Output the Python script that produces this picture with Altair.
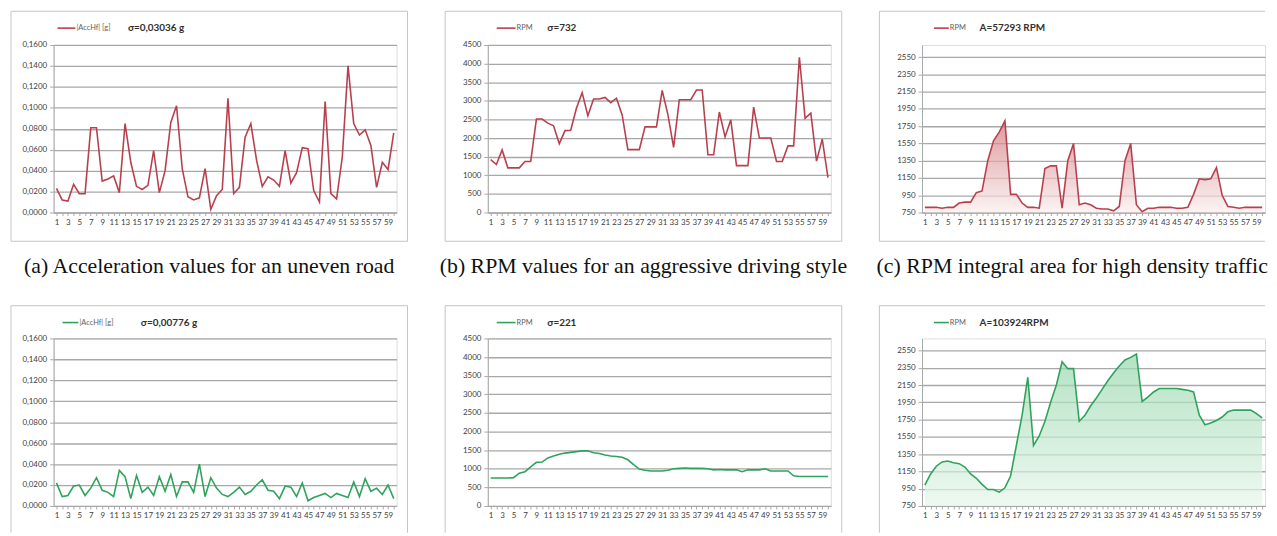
import altair as alt
import pandas as pd

samples = list(range(1, 61))

acc_uneven = [0.023, 0.012, 0.011, 0.027, 0.018, 0.018, 0.081, 0.081, 0.030, 0.032,
              0.035, 0.019, 0.085, 0.048, 0.025, 0.022, 0.026, 0.059, 0.019, 0.040,
              0.086, 0.102, 0.042, 0.015, 0.012, 0.014, 0.042, 0.003, 0.016, 0.022,
              0.109, 0.018, 0.024, 0.072, 0.085, 0.050, 0.025, 0.034, 0.031, 0.025,
              0.059, 0.028, 0.038, 0.062, 0.061, 0.021, 0.010, 0.106, 0.018, 0.013,
              0.053, 0.140, 0.085, 0.074, 0.079, 0.064, 0.024, 0.048, 0.041, 0.076]

rpm_aggressive = [1420, 1290, 1680, 1200, 1200, 1200, 1370, 1370, 2510, 2510,
                  2400, 2330, 1850, 2200, 2210, 2800, 3220, 2600, 3050, 3050,
                  3090, 2950, 3070, 2620, 1690, 1690, 1690, 2300, 2300, 2300,
                  3280, 2630, 1750, 3030, 3030, 3030, 3290, 3290, 1550, 1550,
                  2700, 2030, 2490, 1260, 1260, 1260, 2830, 2000, 2000, 2000,
                  1370, 1370, 1790, 1790, 4170, 2530, 2670, 1380, 1970, 940]

rpm_high_density = [810, 810, 810, 800, 810, 810, 860, 870, 870, 980,
                    1000, 1350, 1580, 1680, 1810, 960, 960, 860, 810, 810,
                    800, 1260, 1290, 1290, 800, 1350, 1550, 840, 860, 840,
                    800, 790, 790, 770, 820, 1350, 1550, 840, 760, 800,
                    800, 810, 810, 810, 800, 800, 810, 960, 1140, 1130,
                    1140, 1270, 950, 820, 810, 800, 810, 810, 810, 810]

acc_smooth = [0.022, 0.009, 0.010, 0.019, 0.020, 0.010, 0.017, 0.027, 0.015, 0.013,
              0.009, 0.034, 0.028, 0.007, 0.029, 0.013, 0.018, 0.010, 0.028, 0.014,
              0.030, 0.009, 0.023, 0.023, 0.013, 0.040, 0.009, 0.027, 0.017, 0.011,
              0.009, 0.013, 0.018, 0.011, 0.014, 0.020, 0.025, 0.015, 0.014, 0.007,
              0.019, 0.018, 0.009, 0.022, 0.005, 0.008, 0.010, 0.012, 0.008, 0.012,
              0.010, 0.008, 0.023, 0.009, 0.026, 0.014, 0.017, 0.011, 0.020, 0.007]

rpm_calm = [750, 750, 750, 750, 760, 880, 920, 1050, 1170, 1180,
            1290, 1340, 1390, 1420, 1440, 1460, 1480, 1480, 1430, 1410,
            1370, 1340, 1330, 1310, 1240, 1110, 990, 960, 940, 940,
            940, 960, 1000, 1010, 1020, 1010, 1010, 1010, 1000, 970,
            980, 970, 970, 970, 920, 970, 970, 970, 1000, 940,
            940, 940, 940, 810, 790, 790, 790, 790, 790, 790]

rpm_low_density = [990, 1120, 1210, 1260, 1270, 1250, 1240, 1200, 1120, 1070,
                   1000, 940, 940, 910, 960, 1100, 1450, 1800, 2240, 1450,
                   1560, 1730, 1950, 2150, 2420, 2340, 2340, 1730, 1800, 1910,
                   2000, 2100, 2200, 2290, 2370, 2440, 2470, 2510, 1960, 2010,
                   2070, 2110, 2110, 2110, 2110, 2100, 2090, 2070, 1800, 1690,
                   1710, 1740, 1780, 1840, 1860, 1860, 1860, 1860, 1820, 1770]

acc_ticks = [0, 0.02, 0.04, 0.06, 0.08, 0.10, 0.12, 0.14, 0.16]
rpm_ticks = [0, 500, 1000, 1500, 2000, 2500, 3000, 3500, 4000, 4500]
area_ticks = [750, 950, 1150, 1350, 1550, 1750, 1950, 2150, 2350, 2550]

captions = ["(a) Acceleration values for an uneven road",
            "(b) RPM values for an aggressive driving style",
            "(c) RPM integral area for high density traffic"]
legend_labels = ["|AccHf| [g]", "RPM", "RPM", "|AccHf| [g]", "RPM", "RPM"]
stat_texts = ["σ=0,03036 g", "σ=732", "A=57293 RPM", "σ=0,00776 g", "σ=221", "A=103924RPM"]

W, H = 346, 169
RED = "#b8404e"
GREEN = "#2ea35c"
GRID = "#a8a8a8"
FRAME = "#c4c4c4"
FONT = "Lato"
SERIF = "Times New Roman, Liberation Serif, DejaVu Serif, serif"
ACC_FMT = "replace(format(datum.value, '.4f'), '.', ',')"


def make_panel(values, color, kind, ydomain, yticks, legend_label, stat_text,
               leg, caption=None, fill_stops=None, frame_top=-34, frame_bottom=H + 29,
               open_right=False, open_bottom=False):
    df = pd.DataFrame({"sample": samples, "value": values})
    x = alt.X("sample:O",
              scale=alt.Scale(type="point", padding=0.5),
              axis=alt.Axis(labelExpr="datum.value % 2 == 1 ? datum.label : ''",
                            labelAngle=0, title=None, grid=False,
                            domainColor=GRID, tickColor=GRID, tickSize=3,
                            labelFontSize=8, labelColor="#404040", labelFont=FONT,
                            labelPadding=3))
    yaxis_kw = dict(values=yticks, title=None, grid=True, gridColor=GRID,
                    gridWidth=1.3, domainColor=GRID, tickColor=GRID, tickSize=4,
                    labelFontSize=8, labelColor="#404040", labelFont=FONT,
                    labelPadding=3)
    if kind == "acc":
        yaxis_kw["labelExpr"] = ACC_FMT
    else:
        yaxis_kw["format"] = "d"
    y = alt.Y("value:Q", scale=alt.Scale(domain=ydomain, nice=False, zero=False),
              axis=alt.Axis(**yaxis_kw))

    base = alt.Chart(df)
    if fill_stops is None:
        data_layer = base.mark_line(color=color, strokeWidth=1.6).encode(x=x, y=y)
    else:
        grad = alt.Gradient(gradient="linear",
                            stops=[alt.GradientStop(color=fill_stops[0], offset=0),
                                   alt.GradientStop(color=fill_stops[1], offset=1)],
                            x1=1, x2=1, y1=0, y2=1)
        data_layer = base.mark_area(
            fill=grad, line={"color": color, "strokeWidth": 1.6}
        ).encode(x=x, y=y, y2=alt.datum(ydomain[0]))

    one = alt.Chart(pd.DataFrame({"k": [0]}))
    right = W if open_right else W + 11
    left = -43
    frame_layers = [
        one.mark_rule(color=FRAME, strokeWidth=1).encode(
            x=alt.value(left), x2=alt.value(right), y=alt.value(frame_top)),
        one.mark_rule(color=FRAME, strokeWidth=1).encode(
            x=alt.value(left), y=alt.value(frame_top), y2=alt.value(frame_bottom)),
    ]
    if not open_bottom:
        frame_layers.append(one.mark_rule(color=FRAME, strokeWidth=1).encode(
            x=alt.value(left), x2=alt.value(right), y=alt.value(frame_bottom)))
    if not open_right:
        frame_layers.append(one.mark_rule(color=FRAME, strokeWidth=1).encode(
            x=alt.value(right), y=alt.value(frame_top), y2=alt.value(frame_bottom)))

    ly = frame_top + 17
    leg_line = one.mark_rule(color=color, strokeWidth=1.6).encode(
        x=alt.value(leg[0]), x2=alt.value(leg[1]), y=alt.value(ly))
    leg_text = one.mark_text(align="left", baseline="middle", fontSize=7.5,
                             color="#606060", font=FONT).encode(
        x=alt.value(leg[1] + 1), y=alt.value(ly), text=alt.value(legend_label))
    stat = one.mark_text(align="left", baseline="middle", fontSize=10,
                         fontWeight="bold", color="#303030", font=FONT).encode(
        x=alt.value(leg[2]), y=alt.value(ly), text=alt.value(stat_text))

    ch = alt.layer(*frame_layers, data_layer, leg_line, leg_text, stat).properties(
        width=W, height=H)
    if caption:
        ch = ch.properties(title=alt.TitleParams(
            caption, orient="bottom", font=SERIF, fontSize=22,
            fontWeight="normal", color="#111111", anchor="middle",
            frame="bounds", baseline="top", offset=15))
    return ch


pa = make_panel(acc_uneven, RED, "acc", [0, 0.16], acc_ticks, legend_labels[0],
                stat_texts[0], (4, 22, 75), caption=captions[0])
pb = make_panel(rpm_aggressive, RED, "rpm", [0, 4500], rpm_ticks, legend_labels[1],
                stat_texts[1], (9, 28, 60), caption=captions[1])
pc = make_panel(rpm_high_density, RED, "area", [750, 2690], area_ticks, legend_labels[2],
                stat_texts[2], (12, 27, 58), caption=captions[2],
                fill_stops=("#cf6f74", "#fbeeee"), open_right=True)
pd_ = make_panel(acc_smooth, GREEN, "acc", [0, 0.16], acc_ticks, legend_labels[3],
                 stat_texts[3], (9, 25, 88), frame_top=-33, frame_bottom=H + 27,
                 open_bottom=True)
pe = make_panel(rpm_calm, GREEN, "rpm", [0, 4500], rpm_ticks, legend_labels[4],
                stat_texts[4], (9, 28, 60), frame_top=-33, frame_bottom=H + 27,
                open_bottom=True)
pf = make_panel(rpm_low_density, GREEN, "area", [750, 2690], area_ticks, legend_labels[5],
                stat_texts[5], (12, 27, 58), frame_top=-33, frame_bottom=H + 27,
                fill_stops=("#94d6aa", "#e6f6eb"), open_right=True, open_bottom=True)

chart = alt.concat(pa, pb, pc, pd_, pe, pf, columns=3,
                   spacing={"row": 127, "column": 92}, bounds="flush").properties(
    padding={"left": 2, "top": 0, "right": 0, "bottom": 0}
).configure_view(stroke=None).configure(background="white")

chart.save("out.html", embed_options={"renderer": "svg", "actions": False})
